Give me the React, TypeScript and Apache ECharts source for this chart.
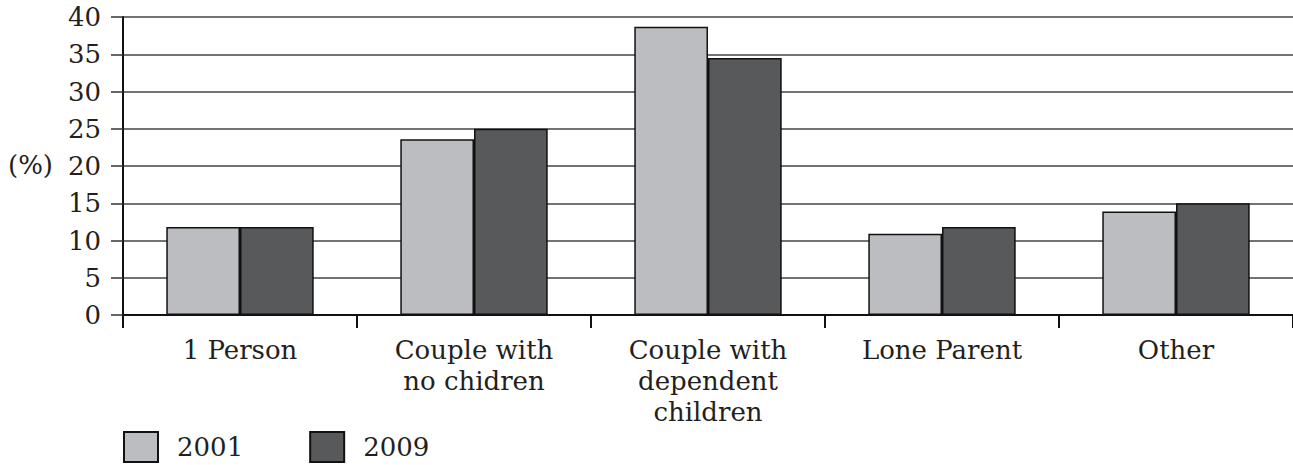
import React, { useEffect, useRef } from "react";
import * as echarts from "echarts";

const categories = [
  "1 Person",
  "Couple with\nno chidren",
  "Couple with\ndependent\nchildren",
  "Lone Parent",
  "Other",
];
const values2001 = [11.8, 23.6, 38.7, 10.9, 13.9];
const values2009 = [11.8, 25.0, 34.5, 11.8, 15.0];
const seriesNames = ["2001", "2009"];
const yTicks = { min: 0, max: 40, interval: 5 };

const FONT = "DejaVu Serif";

export default function App() {
  const ref = useRef<HTMLDivElement>(null);
  useEffect(() => {
    if (!ref.current) return;
    const chart = echarts.init(ref.current, null, { renderer: "svg" });
    const barStyle = (color: string) => ({
      color,
      borderColor: "#111",
      borderWidth: 1.5,
    });
    chart.setOption({
      animation: false,
      backgroundColor: "#fff",
      textStyle: { fontFamily: FONT, color: "#231f20" },
      grid: { left: 123, right: -7, top: 17, bottom: 150, containLabel: false },
      legend: {
        left: 123,
        top: 431,
        padding: 0,
        itemWidth: 34,
        itemHeight: 30,
        itemGap: 66,
        icon: "rect",
        textStyle: {
          fontFamily: FONT,
          fontSize: 26,
          lineHeight: 26,
          color: "#231f20",
          padding: [0, 0, 0, 14],
        },
        data: seriesNames,
      },
      graphic: [
        {
          type: "text",
          left: 8,
          top: 152,
          style: { text: "(%)", font: `26px "${FONT}"`, fill: "#231f20" },
        },
      ],
      xAxis: {
        type: "category",
        data: categories,
        axisLine: { show: true, lineStyle: { color: "#111", width: 2 } },
        axisTick: { show: true, length: 13, lineStyle: { color: "#111", width: 2 } },
        axisLabel: {
          fontFamily: FONT,
          fontSize: 26,
          lineHeight: 31,
          color: "#231f20",
          margin: 19,
          interval: 0,
        },
      },
      yAxis: {
        type: "value",
        min: yTicks.min,
        max: yTicks.max,
        interval: yTicks.interval,
        axisLine: { show: true, lineStyle: { color: "#111", width: 2 } },
        axisTick: { show: true, length: 12, lineStyle: { color: "#333", width: 1.5 } },
        splitLine: { show: true, lineStyle: { color: "#444", width: 1.5 } },
        axisLabel: {
          fontFamily: FONT,
          fontSize: 26,
          color: "#231f20",
          margin: 22,
        },
      },
      series: [
        {
          name: seriesNames[0],
          type: "bar",
          data: values2001,
          barGap: "0%",
          barCategoryGap: "37%",
          itemStyle: barStyle("#bcbdc0"),
        },
        {
          name: seriesNames[1],
          type: "bar",
          data: values2009,
          barGap: "0%",
          barCategoryGap: "37%",
          itemStyle: barStyle("#58595b"),
        },
      ],
    });
    return () => chart.dispose();
  }, []);
  return (
    <div
      ref={ref}
      style={{ position: "fixed", left: 0, top: 0, width: 1293, height: 465 }}
    />
  );
}
